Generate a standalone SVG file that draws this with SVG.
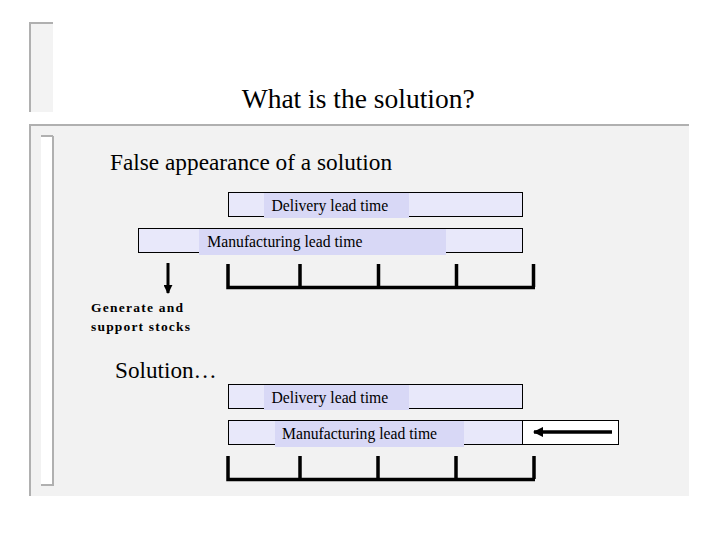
<svg xmlns="http://www.w3.org/2000/svg" width="720" height="540" viewBox="0 0 720 540">
  <style>
    text { font-family: "Liberation Serif", serif; fill: #000; }
    .bar { fill: #e8e8fa; stroke: #000; stroke-width: 1; }
    .lab { fill: #d8d8f6; }
    .tick { fill: none; stroke: #000; stroke-width: 3.5; stroke-linecap: butt; }
    .deco { fill: none; stroke: #b0b0b0; stroke-width: 2; }
  </style>
  <defs>
    <marker id="ah" viewBox="0 0 10 10" refX="9" refY="5" markerWidth="3" markerHeight="3" orient="auto">
      <path d="M0,0 L10,5 L0,10 Z" fill="#000"/>
    </marker>
  </defs>
  <rect width="720" height="540" fill="#fff"/>

  <g id="title-frame">
    <rect x="31" y="23" width="22" height="89" fill="#f3f3f3"/>
    <path class="deco" d="M53,23 L30,23 L30,112"/>
  </g>
  <g id="title">
    <text x="241.7" y="108" font-family="Liberation Serif, serif" font-size="27.5">What is the solution?</text>
  </g>

  <g id="panel">
    <rect x="30" y="124" width="659" height="372" fill="#f2f2f2"/>
    <path class="deco" d="M689,125 L30,125 L30,496"/>
    <rect x="41" y="136" width="12" height="349" fill="#fff"/>
    <path class="deco" d="M41,136 L53,136 M53,136 L53,485 L41,485"/>
  </g>

  <g id="heading-false">
    <text x="110" y="170" font-family="Liberation Serif, serif" font-size="23.3">False appearance of a solution</text>
  </g>

  <g id="delivery-1">
    <rect class="bar" x="228.5" y="192.5" width="294" height="24"/>
    <rect class="lab" x="264" y="193" width="145" height="25"/>
    <text x="271.5" y="211" font-size="15.7">Delivery lead time</text>
  </g>

  <g id="manufacturing-1">
    <rect class="bar" x="138.5" y="228.5" width="384" height="24"/>
    <rect class="lab" x="199" y="229" width="247" height="26"/>
    <text x="207.3" y="247" font-size="15.7">Manufacturing lead time</text>
  </g>

  <g id="generate-stocks">
    <text x="91" y="312" font-size="13.5" font-weight="bold" textLength="92" lengthAdjust="spacing">Generate and</text>
    <text x="91" y="331" font-size="13.5" font-weight="bold" textLength="99" lengthAdjust="spacing">support stocks</text>
  </g>

  <g id="heading-solution">
    <text x="115" y="378" font-size="23.2">Solution…</text>
  </g>

  <g id="delivery-2">
    <rect class="bar" x="228.5" y="384.5" width="294" height="24"/>
    <rect class="lab" x="264" y="385" width="145" height="25"/>
    <text x="271.5" y="403" font-size="15.7">Delivery lead time</text>
  </g>

  <g id="manufacturing-2">
    <rect class="bar" x="228.5" y="420.5" width="294" height="24"/>
    <rect class="lab" x="275" y="421" width="189" height="26"/>
    <text x="282" y="439" font-size="15.7">Manufacturing lead time</text>
    <rect x="522.5" y="420.5" width="96" height="24" fill="#fff" stroke="#000" stroke-width="1"/>
  </g>

  <g id="connectors">
    <line x1="168" y1="263" x2="168" y2="293" stroke="#000" stroke-width="3" marker-end="url(#ah)"/>
    <path class="tick" d="M228,264 L228,287.5 L535,287.5 M300,264 L300,287 M378.5,264 L378.5,287 M456.5,264 L456.5,287 M533.5,264 L533.5,287"/>
    <line x1="612" y1="432" x2="534" y2="432" stroke="#000" stroke-width="3.5" marker-end="url(#ah)"/>
    <path class="tick" d="M228,456 L228,479.5 L535,479.5 M300,456 L300,479 M378,456 L378,479 M456,456 L456,479 M534,456 L534,479"/>
  </g>
</svg>
